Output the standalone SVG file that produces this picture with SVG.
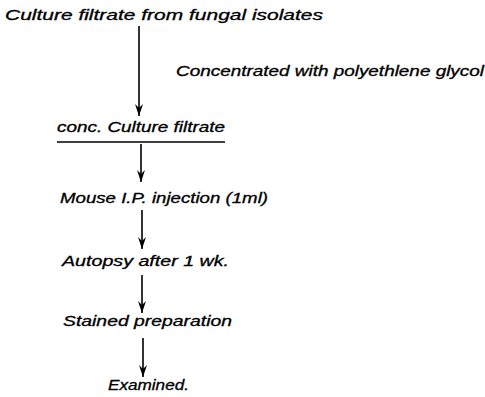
<svg xmlns="http://www.w3.org/2000/svg" width="485" height="397" viewBox="0 0 485 397">
<style>
text{font-family:"Liberation Sans",Arial,sans-serif;font-style:italic;font-size:14px;fill:#000;stroke:#000;stroke-width:0.3}
.c line{stroke:#000;stroke-width:1.6}
</style>
<defs>
<marker id="ah" viewBox="0 0 12 8" refX="12" refY="4" markerWidth="12" markerHeight="8" markerUnits="userSpaceOnUse" orient="auto">
<path d="M0,0 L12,4 L0,8 L4,4 Z" fill="#000"/>
</marker>
</defs>
<rect width="485" height="397" fill="#fff"/>
<g id="n1"><text x="5" y="20" textLength="318" lengthAdjust="spacingAndGlyphs">Culture  filtrate  from fungal isolates</text></g>
<g id="lbl"><text x="176" y="76" textLength="308" lengthAdjust="spacingAndGlyphs">Concentrated  with  polyethlene  glycol</text></g>
<g id="n2"><text x="57" y="132" textLength="168" lengthAdjust="spacingAndGlyphs">conc. Culture  filtrate</text><line x1="57" y1="142" x2="225" y2="142" stroke="#000" stroke-width="1.3"/></g>
<g id="n3"><text x="60" y="203" textLength="208" lengthAdjust="spacingAndGlyphs">Mouse I.P. injection (1ml)</text></g>
<g id="n4"><text x="62" y="266" textLength="167" lengthAdjust="spacingAndGlyphs">Autopsy  after  1  wk.</text></g>
<g id="n5"><text x="63" y="326" textLength="169" lengthAdjust="spacingAndGlyphs">Stained  preparation</text></g>
<g id="n6"><text x="108" y="390" textLength="81" lengthAdjust="spacingAndGlyphs">Examined.</text></g>
<g class="c" id="connectors">
<line x1="139" y1="26" x2="139" y2="116" marker-end="url(#ah)"/>
<line x1="141" y1="144" x2="141" y2="182" marker-end="url(#ah)"/>
<line x1="142" y1="210" x2="142" y2="249" marker-end="url(#ah)"/>
<line x1="142" y1="275" x2="142" y2="313" marker-end="url(#ah)"/>
<line x1="143" y1="338" x2="143" y2="377" marker-end="url(#ah)"/>
</g>
</svg>
